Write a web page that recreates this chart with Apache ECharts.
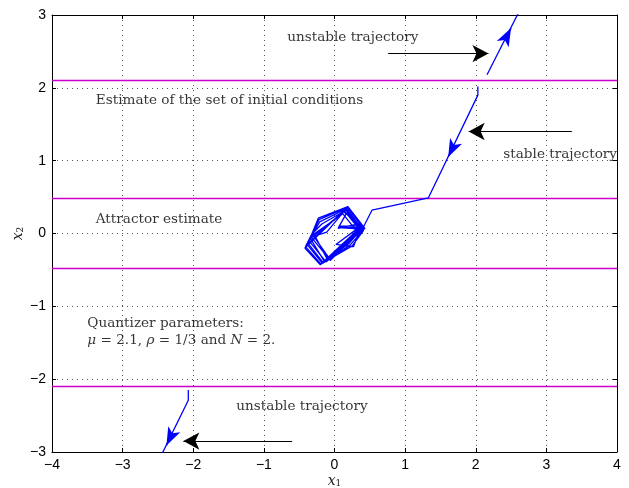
<!DOCTYPE html>
<html>
<head>
<meta charset="utf-8">
<script src="https://cdn.jsdelivr.net/npm/echarts@6/dist/echarts.min.js"></script>
<style>
html, body { margin: 0; padding: 0; background: #fff; }
#chart { width: 629px; height: 488px; }
</style>
</head>
<body>
<div id="chart"></div>
<script>
// axis ranges
const xRange = [-4, 4]
const yRange = [-3, 3]

// borders of the estimated sets (magenta lines)
const setLevels = [2.1, 0.48, -0.48, -2.1]

// stable trajectory, ends in the attractor
const stableTraj = [
  [2.03, 2.02], [2.03, 1.90], [1.33, 0.49], [0.53, 0.32], [0.41, 0.09],
  [-0.20, -0.43], [-0.42, -0.20], [0.19, 0.37], [0.43, 0.07],
  [-0.17, -0.41], [-0.39, -0.15], [0.16, 0.34], [0.40, 0.05],
  [-0.12, -0.39], [-0.36, -0.10], [-0.23, 0.21], [0.19, 0.37],
  [0.36, 0.14], [0.05, 0.07], [0.17, 0.28], [0.38, 0.07],
  [-0.06, -0.37], [-0.33, -0.05], [-0.11, 0.02], [0.14, 0.31],
  [0.35, 0.06], [-0.08, -0.33], [-0.31, -0.02], [0.12, 0.27],
  [0.30, 0.05], [0.02, -0.15], [0.27, -0.18], [0.37, 0.09],
  [-0.19, -0.42], [-0.41, -0.18], [-0.22, 0.19], [0.18, 0.36],
  [0.42, 0.06], [0.05, 0.08], [0.40, 0.08], [0.20, -0.14],
  [-0.16, -0.40], [-0.38, -0.13], [-0.21, 0.16], [0.17, 0.34],
  [0.41, 0.04], [0.25, -0.17], [-0.14, -0.39], [-0.34, -0.07],
  [0.13, 0.30], [0.38, 0.10], [0.06, 0.10], [0.36, 0.05],
  [-0.10, -0.36], [-0.30, 0.01], [-0.18, 0.13], [0.16, 0.32],
  [0.39, 0.03], [0.22, -0.16], [-0.17, -0.41]
]

// unstable trajectories
const unstableUp = [[2.16, 2.18], [2.62, 3.06]]
const unstableDown = [[-2.07, -2.15], [-2.07, -2.29], [-2.46, -3.06]]

// arrowheads on the trajectories: [from, to]
const trajArrows = [
  [[2.43, 2.69], [2.50, 2.82]],
  [[1.67, 1.17], [1.61, 1.05]],
  [[-2.32, -2.79], [-2.38, -2.91]]
]

// black annotation arrows: [from, to]
const noteArrows = [
  [[0.76, 2.47], [2.18, 2.47]],
  [[3.36, 1.40], [1.90, 1.40]],
  [[-0.60, -2.85], [-2.14, -2.85]]
]

// text notes (left edge, vertical centre)
const noteX = [-0.67, -3.38, 2.39, -3.38, -3.50, -3.50, -1.39]
const noteY = [2.69, 1.82, 1.08, 0.19, -1.23, -1.47, -2.38]
const noteText = [
  'unstable trajectory',
  'Estimate of the set of initial conditions',
  'stable trajectory',
  'Attractor estimate',
  'Quantizer parameters:',
  '{m|μ} = 2.1, {m|ρ} = 1/3 and {m|N} = 2.',
  'unstable trajectory'
]

const serif = 'DejaVu Serif'
const minus = v => String(v).replace('-', '\u2212')

const chart = echarts.init(document.getElementById('chart'))

const gridLine = { show: true, lineStyle: { color: '#555', type: [1, 4], width: 1 } }
const tickIn = { show: true, inside: true, length: 4, lineStyle: { color: '#000' } }
const frame = { show: true, onZero: false, lineStyle: { color: '#000', width: 1 } }
const tickFont = { color: '#000', fontSize: 14, fontFamily: 'Liberation Sans' }
const subName = {
  i: { fontFamily: serif, fontStyle: 'italic', fontSize: 14, lineHeight: 14, color: '#222' },
  s: { fontFamily: serif, fontSize: 9, lineHeight: 14, verticalAlign: 'bottom', color: '#222' }
}

const series = []

setLevels.forEach(y => {
  series.push({
    type: 'line', symbol: 'none', silent: true,
    data: [[xRange[0], y], [xRange[1], y]],
    lineStyle: { color: '#cc00cc', width: 1.5 }
  })
})

;[stableTraj, unstableUp, unstableDown].forEach(d => {
  series.push({
    type: 'line', symbol: 'none', silent: true, data: d,
    lineStyle: { color: '#0000ff', width: 1.3 }
  })
})

series.push({
  type: 'line', data: [], silent: true,
  markLine: {
    silent: true, animation: false,
    symbol: ['none', 'arrow'], symbolSize: [10, 18],
    label: { show: false },
    lineStyle: { color: '#0000ff', width: 1.3, type: 'solid' },
    data: trajArrows.map(a => [{ coord: a[0] }, { coord: a[1] }])
  }
})

series.push({
  type: 'line', data: [], silent: true,
  markLine: {
    silent: true, animation: false,
    symbol: ['none', 'arrow'], symbolSize: [13, 16],
    label: { show: false },
    lineStyle: { color: '#000', width: 1.2, type: 'solid' },
    data: noteArrows.map(a => [{ coord: a[0] }, { coord: a[1] }])
  }
})

series.push({
  type: 'scatter', symbolSize: 0, silent: true,
  data: noteX.map((x, i) => ({ value: [x, noteY[i]], name: noteText[i] })),
  label: {
    show: true, position: 'right', distance: 0, formatter: '{b}',
    fontFamily: serif, fontSize: 13.6, color: '#000',
    rich: { m: { fontFamily: serif, fontStyle: 'italic', fontSize: 13.6, color: '#000' } }
  }
})

chart.setOption({
  animation: false,
  backgroundColor: '#fff',
  grid: { left: 52, right: 12, top: 15, bottom: 36, containLabel: false, outerBoundsMode: 'none' },
  xAxis: [
    {
      type: 'value', min: xRange[0], max: xRange[1], interval: 1, position: 'bottom',
      axisLine: frame, axisTick: tickIn, splitLine: gridLine,
      axisLabel: Object.assign({ formatter: minus, margin: 6 }, tickFont),
      name: '{i|x}{s|1}', nameLocation: 'middle', nameGap: 22, nameMoveOverlap: false,
      nameTextStyle: { rich: subName }
    },
    {
      type: 'value', min: xRange[0], max: xRange[1], interval: 1, position: 'top',
      axisLine: frame, axisTick: tickIn, splitLine: { show: false }, axisLabel: { show: false }
    }
  ],
  yAxis: [
    {
      type: 'value', min: yRange[0], max: yRange[1], interval: 1, position: 'left',
      axisLine: frame, axisTick: tickIn, splitLine: gridLine,
      axisLabel: Object.assign({ formatter: minus, margin: 6 }, tickFont),
      name: '{i|x}{s|2}', nameLocation: 'middle', nameGap: 27, nameRotate: 90, nameMoveOverlap: false,
      nameTextStyle: { rich: subName }
    },
    {
      type: 'value', min: yRange[0], max: yRange[1], interval: 1, position: 'right',
      axisLine: frame, axisTick: tickIn, splitLine: { show: false }, axisLabel: { show: false }
    }
  ],
  series: series
})
</script>
</body>
</html>
